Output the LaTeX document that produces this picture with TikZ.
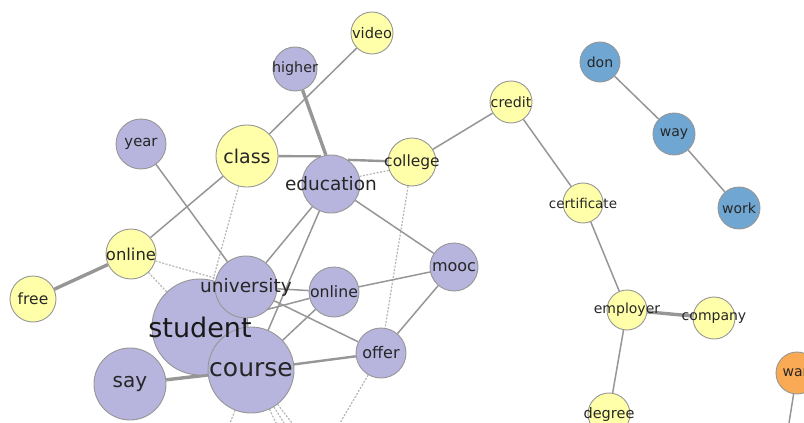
\documentclass[tikz,border=0pt]{standalone}
\usepackage{fontspec}
\newfontfamily\vfont{DejaVu Sans}
\usepackage{xcolor}
\usetikzlibrary{backgrounds}
\definecolor{lav}{RGB}{183,180,221}
\definecolor{pale}{RGB}{255,255,170}
\definecolor{sky}{RGB}{112,166,210}
\definecolor{tang}{RGB}{250,170,85}
\definecolor{rim}{RGB}{150,150,150}
\definecolor{wire}{RGB}{150,150,150}
\definecolor{faint}{RGB}{182,182,182}

\begin{document}
\begin{tikzpicture}[x=1pt, y=-1pt,
  w/.style={circle, draw=rim, line width=0.9pt, inner sep=0pt, minimum size=#1},
  tp/.style={w=#1, fill=lav},
  ty/.style={w=#1, fill=pale},
  tb/.style={w=#1, fill=sky},
  to/.style={w=#1, fill=tang},
  txt/.style={font=\vfont\fontsize{#1}{#1}\selectfont, text=black!85, inner sep=0pt},
  e/.style={draw=wire, line width=1.5pt},
  em/.style={draw=wire, line width=2.4pt},
  et/.style={draw=wire, line width=3.4pt},
  ed/.style={draw=faint, line width=1.2pt, dash pattern=on 2pt off 1.5pt}
]
  \useasboundingbox (0,0) rectangle (804,423);

  \node[ty=42] (video) at (372,33) {};
  \node[tp=44] (higher) at (295,69) {};
  \node[tp=50] (year) at (141,144) {};
  \node[tp=58] (education) at (331,184) {};
  \node[ty=62] (class) at (247,156) {};
  \node[ty=48] (college) at (412,162) {};
  \node[ty=42] (credit) at (511,102) {};
  \node[ty=40] (certificate) at (583,203) {};
  \node[tb=40] (don) at (600,62) {};
  \node[tb=42] (way) at (674,134) {};
  \node[tb=42] (work) at (739,208) {};
  \node[ty=40] (employer) at (627,310) {};
  \node[ty=42] (company) at (714,318) {};
  \node[ty=42] (degree) at (609,414) {};
  \node[to=42] (wan) at (797,373) {};
  \node[tp=48] (mooc) at (454,267) {};
  \node[tp=50] (onlinep) at (334,292) {};
  \node[tp=50] (offer) at (381,353) {};
  \node[tp=96] (student) at (200,327) {};
  \node[tp=62] (university) at (246,287) {};
  \node[tp=86] (course) at (251,370) {};
  \node[tp=72] (say) at (130,384) {};
  \node[ty=50] (onliney) at (131,254) {};
  \node[ty=46] (free) at (33,299) {};

  \coordinate (c1) at (230,423);
  \coordinate (c2) at (276,423);
  \coordinate (c3) at (284,423);
  \coordinate (c4) at (292,423);
  \coordinate (o1) at (340,423);
  \coordinate (w1) at (789,423);

  \node[txt=14.6] (l-video) at (video) {video};
  \node[txt=14.3] (l-higher) at (higher) {higher};
  \node[txt=14.8] (l-year) at (year) {year};
  \node[txt=19] (l-class) at (class) {class};
  \node[txt=18.5] (l-education) at (education) {education};
  \node[txt=15.5] (l-college) at (college) {college};
  \node[txt=14.2] (l-credit) at (credit) {credit};
  \node[txt=13.5] (l-certificate) at (certificate) {certificate};
  \node[txt=14] (l-don) at (don) {don};
  \node[txt=14] (l-way) at (way) {way};
  \node[txt=14] (l-work) at (work) {work};
  \node[txt=14] (l-employer) at (employer) {employer};
  \node[txt=14] (l-company) at (company) {company};
  \node[txt=14.5] (l-degree) at (degree) {degree};
  \node[txt=14] (l-wan) at (wan) {wan};
  \node[txt=16] (l-mooc) at (mooc) {mooc};
  \node[txt=15.7] (l-onlinep) at (onlinep) {online};
  \node[txt=16] (l-offer) at (offer) {offer};
  \node[txt=27, text=black!90] (l-student) at (student) {student};
  \node[txt=18.5] (l-university) at (university) {university};
  \node[txt=25] (l-course) at (course) {course};
  \node[txt=20] (l-say) at (say) {say};
  \node[txt=16.4] (l-onliney) at (onliney) {online};
  \node[txt=15.5] (l-free) at (free) {free};

  \begin{scope}[on background layer]
    \draw[ed] (class) -- (student);
    \draw[ed] (onliney) -- (university);
    \draw[ed] (onliney) -- (student);
    \draw[ed] (education.15) -- (college.200);
    \draw[ed] (college) -- (offer);
    \draw[ed] (offer) -- (o1);
    \draw[ed] (course) -- (c1);
    \draw[ed] (course) -- (c2);
    \draw[ed] (course) -- (c3);
    \draw[ed] (course) -- (c4);

    \draw[e] (video) -- (class);
    \draw[et] (higher) -- (education.100);
    \draw[em] (class) -- (education.110);
    \draw[em] (education.55) -- (college);
    \draw[e] (college) -- (credit);
    \draw[e] (credit) -- (certificate);
    \draw[e] (certificate) -- (employer);
    \draw[et] (employer) -- (company);
    \draw[e] (employer) -- (degree);
    \draw[e] (don) -- (way);
    \draw[e] (way) -- (work);
    \draw[e] (wan) -- (w1);
    \draw[e] (year) -- (university);
    \draw[e] (class) -- (onliney);
    \draw[et] (onliney) -- (free);
    \draw[e] (education) -- (mooc);
    \draw[e] (education) -- (university);
    \draw[e] (education) -- (course);
    \draw[e] (university) -- (onlinep);
    \draw[e] (student) -- (onlinep);
    \draw[e] (university) -- (offer);
    \draw[e] (course) -- (onlinep);
    \draw[e] (onlinep) -- (mooc);
    \draw[e] (offer) -- (mooc);
    \draw[em] (course) -- (offer);
    \draw[et] (say) -- (course);
  \end{scope}
\end{tikzpicture}
\end{document}
